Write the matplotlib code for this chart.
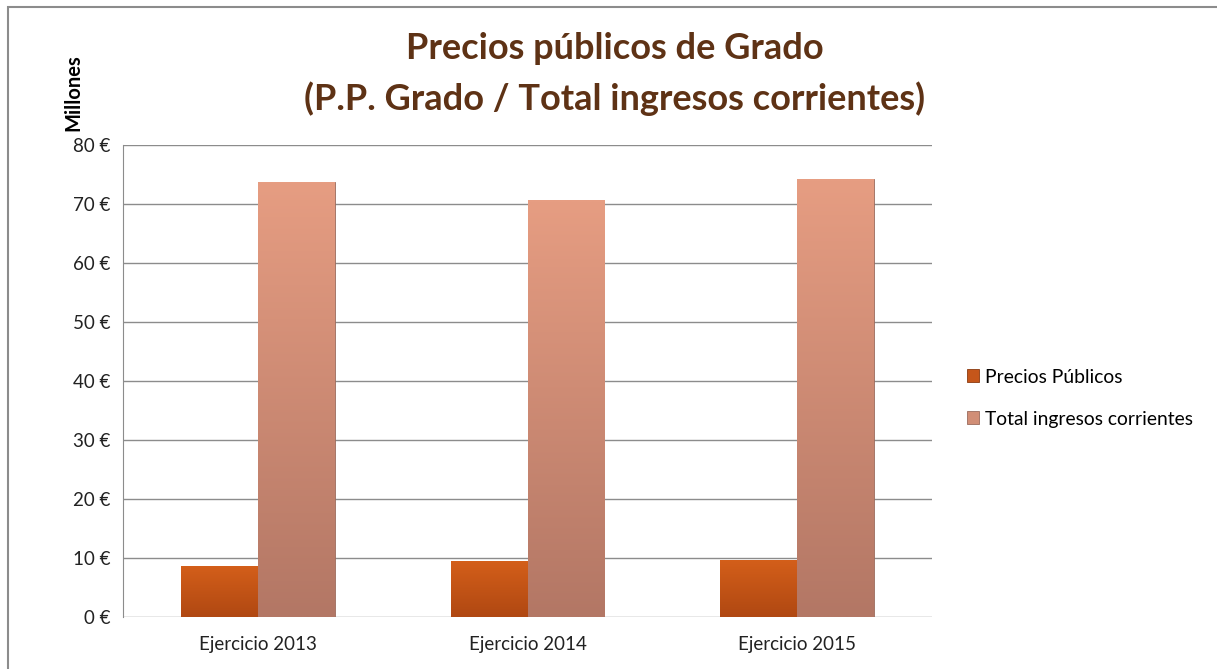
import numpy as np
import matplotlib.pyplot as plt
from matplotlib.patches import Rectangle
from matplotlib.ticker import FuncFormatter

categories = ['Ejercicio 2013', 'Ejercicio 2014', 'Ejercicio 2015']
precios_publicos = [8.7, 9.5, 9.7]
total_ingresos = [73.8, 70.7, 74.2]
series_names = ['Precios Públicos', 'Total ingresos corrientes']

plt.rcParams['font.family'] = ['Lato', 'DejaVu Sans']

fig = plt.figure(figsize=(12.17, 6.69), dpi=100)
ax = fig.add_axes([0.101, 0.0777, 0.665, 0.7053])

# grey frame round the chart (only top and left are visible in the original)
fig.patches.append(Rectangle((8 / 1217, -0.05), 1.2, 1 - 7 / 669 + 0.05,
                             transform=fig.transFigure, fill=False,
                             edgecolor='#8c8c8c', linewidth=1.5))

x = np.arange(len(categories))
w = 0.285


def gradient_bars(bars, top_col, bot_col):
    top = np.array(plt.matplotlib.colors.to_rgb(top_col))
    bot = np.array(plt.matplotlib.colors.to_rgb(bot_col))
    for b in bars:
        x0, y0 = b.get_x(), b.get_y()
        bw, bh = b.get_width(), b.get_height()
        t = np.linspace(1, 0, 100)[:, None, None]
        img = bot + (top - bot) * t
        im = ax.imshow(img, extent=[x0, x0 + bw, y0, y0 + bh], aspect='auto',
                       zorder=3, interpolation='bilinear')
        im.set_clip_path(b)


b1 = ax.bar(x - w / 2, precios_publicos, w, color='#c5561a',
            edgecolor='#8a3a10', linewidth=0.6, zorder=2, label=series_names[0])
b2 = ax.bar(x + w / 2, total_ingresos, w, color='#d18e76',
            edgecolor='#9a6a5c', linewidth=0.6, zorder=2, label=series_names[1])
gradient_bars(b1, '#d45f1a', '#b04812')
gradient_bars(b2, '#e69d82', '#b37765')

ax.set_xlim(-0.5, 2.5)
ax.set_ylim(0, 80)
ax.set_yticks(range(0, 81, 10))
ax.yaxis.set_major_formatter(FuncFormatter(lambda v, p: f'{int(v)} €'))
ax.set_xticks(x)
ax.set_xticklabels(categories)
ax.tick_params(axis='both', length=0, labelsize=13.5, colors='#222222')
ax.tick_params(axis='x', pad=14)
ax.tick_params(axis='y', pad=9)
ax.grid(axis='y', color='#8c8c8c', linewidth=1.0, zorder=0)
ax.set_axisbelow(True)
for s in ['top', 'right', 'bottom']:
    ax.spines[s].set_visible(False)
ax.spines['left'].set_color('#8c8c8c')

fig.text(0.06, 0.862, 'Millones', rotation=90, ha='center', va='center',
         fontsize=14.5, fontweight='bold', color='black')

fig.text(0.505, 0.927, 'Precios públicos de Grado', ha='center', va='center',
         fontsize=26, fontweight='bold', color='#5e3215')
fig.text(0.505, 0.852, '(P.P. Grado / Total ingresos corrientes)', ha='center',
         va='center', fontsize=26, fontweight='bold', color='#5e3215')

leg = fig.legend(handles=[b1, b2], labels=series_names, loc='center left',
                 bbox_to_anchor=(0.78, 0.405), frameon=False, fontsize=13.9,
                 handlelength=0.65, handleheight=0.65, handletextpad=0.3,
                 labelspacing=1.3)

fig.savefig('out.png', dpi=100)
